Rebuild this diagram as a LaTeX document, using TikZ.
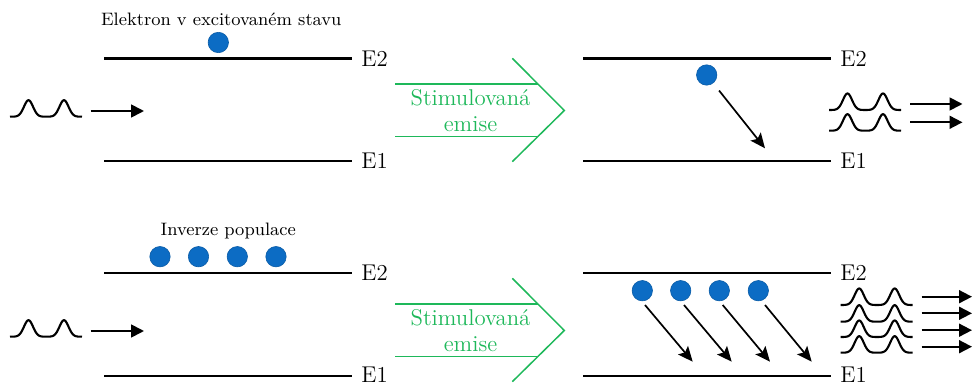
\documentclass[tikz,border=0pt]{standalone}
\usetikzlibrary{arrows.meta}
\definecolor{elblue}{RGB}{12,108,196}
\definecolor{emgreen}{RGB}{30,184,90}
\tikzset{
  level/.style={line width=1.45pt},
  lvllabel/.style={anchor=west,inner sep=0pt,font=\fontsize{11.4}{13}\selectfont},
  electron/.style={circle,fill=elblue,draw=elblue!85!black,line width=0.3pt,minimum size=10.2pt,inner sep=0pt},
  note/.style={anchor=base,inner sep=0pt,font=\fontsize{9}{11}\selectfont},
  emtext/.style={anchor=base,inner sep=0pt,text=emgreen,font=\fontsize{11.4}{13}\selectfont},
  emline/.style={draw=emgreen,line width=0.75pt},
  photon/.style={line width=0.9pt,-{Triangle[length=6.5pt,width=6.5pt]}},
  trans/.style={line width=0.85pt,-{Stealth[length=7.5pt,width=6.5pt,inset=1.5pt]}},
  wave/.pic={\draw[line width=1.05pt,line join=round] plot[domain=0:72,samples=150,smooth]
    (\x,{-16.5*(exp(-((\x-18.5)/6.4)^2)+exp(-((\x-54)/6.4)^2))});}
}
\begin{document}
\begin{tikzpicture}[x=0.5pt,y=-0.5pt]
\useasboundingbox (0,0) rectangle (976,385);

% ===== top panel =====
\coordinate (tlE2a) at (104,58.5); \coordinate (tlE2b) at (352,58.5);
\coordinate (tlE1a) at (104,161);  \coordinate (tlE1b) at (352,161);
\draw[level] (tlE2a) -- (tlE2b);
\draw[level] (tlE1a) -- (tlE1b);
\node[lvllabel] (tlE2) at (361,58.5) {E2};
\node[lvllabel] (tlE1) at (361,161) {E1};
\node[electron] (te1) at (218.3,42.5) {};
\node[note] (tnote) at (221.3,26) {Elektron v excitovaném stavu};
\pic at (10,116.7) {wave};
\coordinate (tpa) at (90.5,111); \coordinate (tpb) at (144,111);
\draw[photon] (tpa) -- (tpb);
% green arrow
\coordinate (tg1a) at (395,84);  \coordinate (tg1b) at (537.8,84);
\coordinate (tg2a) at (395,136.5); \coordinate (tg2b) at (538,136.5);
\coordinate (tgt) at (512.3,58.3); \coordinate (tgm) at (564.3,110.5); \coordinate (tgb) at (512.3,161.7);
\draw[emline] (tg1a) -- (tg1b);
\draw[emline] (tg2a) -- (tg2b);
\draw[emline] (tgt) -- (tgm) -- (tgb);
\node[emtext] (tst) at (470.5,106) {Stimulovaná};
\node[emtext] (tem) at (470.5,131.7) {emise};
% right levels
\coordinate (trE2a) at (583,58.5); \coordinate (trE2b) at (830.5,58.5);
\coordinate (trE1a) at (583,161);  \coordinate (trE1b) at (830.5,161);
\draw[level] (trE2a) -- (trE2b);
\draw[level] (trE1a) -- (trE1b);
\node[lvllabel] (trE2) at (840,58.5) {E2};
\node[lvllabel] (trE1) at (840,161) {E1};
\node[electron] (te2) at (706.7,75) {};
\coordinate (tte) at (765,148.3);
\draw[trans, shorten <=4.7pt] (te2) -- (tte);
\pic at (829,110) {wave};
\pic at (829,130.7) {wave};
\coordinate (to1a) at (910,104);   \coordinate (to1b) at (962.5,104);
\coordinate (to2a) at (910,122.3); \coordinate (to2b) at (962.5,122.3);
\draw[photon] (to1a) -- (to1b);
\draw[photon] (to2a) -- (to2b);

% ===== bottom panel =====
\coordinate (blE2a) at (104,273); \coordinate (blE2b) at (352,273);
\coordinate (blE1a) at (104,376); \coordinate (blE1b) at (352,376);
\draw[level] (blE2a) -- (blE2b);
\draw[level] (blE1a) -- (blE1b);
\node[lvllabel] (blE2) at (361,273) {E2};
\node[lvllabel] (blE1) at (361,375) {E1};
\foreach \i/\xx in {1/160,2/198.5,3/237.3,4/276}{
  \node[electron] (bl\i) at (\xx,256.7) {};
}
\node[note] (bnote) at (228.3,235.7) {Inverze populace};
\pic at (10,336.7) {wave};
\coordinate (bpa) at (90.5,331); \coordinate (bpb) at (144,331);
\draw[photon] (bpa) -- (bpb);
% green arrow
\coordinate (bg1a) at (395,304);  \coordinate (bg1b) at (537.8,304);
\coordinate (bg2a) at (395,356.5); \coordinate (bg2b) at (538,356.5);
\coordinate (bgt) at (512.3,278.3); \coordinate (bgm) at (564.3,330.5); \coordinate (bgb) at (512.3,381.7);
\draw[emline] (bg1a) -- (bg1b);
\draw[emline] (bg2a) -- (bg2b);
\draw[emline] (bgt) -- (bgm) -- (bgb);
\node[emtext] (bst) at (470.5,326) {Stimulovaná};
\node[emtext] (bem) at (470.5,351.7) {emise};
% right levels
\coordinate (brE2a) at (583,273); \coordinate (brE2b) at (830.5,273);
\coordinate (brE1a) at (583,376); \coordinate (brE1b) at (830.5,376);
\draw[level] (brE2a) -- (brE2b);
\draw[level] (brE1a) -- (brE1b);
\node[lvllabel] (brE2) at (840,273) {E2};
\node[lvllabel] (brE1) at (840,375) {E1};
\foreach \i/\xx/\sx/\ex in {1/642.3/645/692.7,2/680.7/684/731.7,3/719.3/722.7/770,4/758.3/765/811.7}{
  \node[electron] (br\i) at (\xx,290.7) {};
  \coordinate (brs\i) at (\sx,305);
  \coordinate (bre\i) at (\ex,361.7);
  \draw[trans] (brs\i) -- (bre\i);
}
\foreach \i/\yy/\ay in {1/305/296.7,2/321.7/313.3,3/337/330.2,4/352.7/346.7}{
  \pic at (840.7,\yy) {wave};
  \coordinate (boa\i) at (921.7,\ay);
  \coordinate (bob\i) at (972,\ay);
  \draw[photon] (boa\i) -- (bob\i);
}
\end{tikzpicture}
\end{document}
